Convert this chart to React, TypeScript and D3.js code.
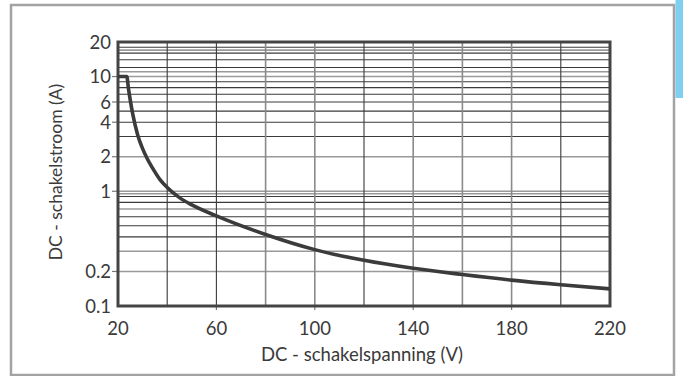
import { useEffect, useRef } from 'react';
import * as d3 from 'd3';

// switching curve: DC voltage (V) vs. DC current (A)
const voltage = [20, 23.6, 24.2, 25, 26, 28, 30, 32, 34, 37, 40, 45, 50, 60, 80, 100, 120, 140, 160, 180, 200, 220];
const current = [10, 10, 8, 6.2, 4.7, 3.1, 2.35, 1.9, 1.6, 1.27, 1.08, 0.88, 0.76, 0.61, 0.42, 0.31, 0.25, 0.213, 0.188, 0.168, 0.153, 0.141];

const yTicks = [20, 10, 6, 4, 2, 1, 0.2, 0.1];
const xTicks = [20, 60, 100, 140, 180, 220];

const yGridDark = [18, 16, 14, 12, 9, 8, 7, 6, 5, 4, 3, 0.9, 0.8, 0.6, 0.5, 0.4];
const yGridLight = [17, 11, 10, 2, 1, 0.95, 0.7, 0.3, 0.2];
const xGridDark = [40, 60, 120, 200];
const xGridLight = [80, 100, 140, 160, 180];

const W = 683;
const H = 376;
const FONT = 'Lato, "DejaVu Sans", sans-serif';

export default function App() {
  const svgRef = useRef<SVGSVGElement>(null);

  useEffect(() => {
    const svg = d3.select(svgRef.current);
    svg.selectAll('*').remove();

    const left = 118, right = 610, top = 42, bottom = 306;
    const x = d3.scaleLinear().domain([20, 220]).range([left, right]);
    const y = d3.scaleLog().domain([0.1, 20]).range([bottom, top]);

    svg.append('rect').attr('width', W).attr('height', H).attr('fill', '#fff');

    // blue tab at top right and outer frame
    svg.append('rect').attr('x', 675.5).attr('y', 0).attr('width', 8).attr('height', 98).attr('fill', '#7ecff0');
    svg.append('rect')
      .attr('x', 11).attr('y', 5).attr('width', 663).attr('height', 370)
      .attr('fill', 'none').attr('stroke', '#a3a3a3').attr('stroke-width', 2.5);

    const grid = svg.append('g');
    grid.selectAll('.hl').data(yGridLight).enter().append('line')
      .attr('x1', left).attr('x2', right)
      .attr('y1', d => y(d)).attr('y2', d => y(d))
      .attr('stroke', '#9a9a9a').attr('stroke-width', 1.6);
    grid.selectAll('.hd').data(yGridDark).enter().append('line')
      .attr('x1', left).attr('x2', right)
      .attr('y1', d => y(d)).attr('y2', d => y(d))
      .attr('stroke', '#3a3a3a').attr('stroke-width', 1.1);
    grid.selectAll('.vl').data(xGridLight).enter().append('line')
      .attr('y1', top).attr('y2', bottom)
      .attr('x1', d => x(d)).attr('x2', d => x(d))
      .attr('stroke', '#8a8a8a').attr('stroke-width', 1.6);
    grid.selectAll('.vd').data(xGridDark).enter().append('line')
      .attr('y1', top).attr('y2', bottom)
      .attr('x1', d => x(d)).attr('x2', d => x(d))
      .attr('stroke', '#3a3a3a').attr('stroke-width', 1.1);

    // tick marks
    svg.append('g').selectAll('line')
      .data(yTicks.filter(d => d !== 20 && d !== 0.1)).enter().append('line')
      .attr('x1', left - 6).attr('x2', left)
      .attr('y1', d => y(d)).attr('y2', d => y(d))
      .attr('stroke', '#777').attr('stroke-width', 1.2);
    svg.append('g').selectAll('line')
      .data(xTicks.filter(d => d !== 20 && d !== 220)).enter().append('line')
      .attr('x1', d => x(d)).attr('x2', d => x(d))
      .attr('y1', bottom).attr('y2', bottom + 4)
      .attr('stroke', '#777').attr('stroke-width', 1.2);

    // plot border
    svg.append('rect')
      .attr('x', left).attr('y', top).attr('width', right - left).attr('height', bottom - top)
      .attr('fill', 'none').attr('stroke', '#444').attr('stroke-width', 3);

    // curve
    const line = d3.line<number>()
      .x((_, i) => x(voltage[i]))
      .y(d => y(d))
      .curve(d3.curveMonotoneX);
    svg.append('path')
      .datum(current)
      .attr('d', line)
      .attr('fill', 'none').attr('stroke', '#3b3b3b').attr('stroke-width', 3.6)
      .attr('stroke-linejoin', 'round');

    // tick labels
    svg.append('g').selectAll('text').data(yTicks).enter().append('text')
      .attr('x', 111).attr('y', d => y(d)).attr('dy', '0.36em')
      .attr('text-anchor', 'end')
      .attr('font-family', FONT).attr('font-size', 18.5).attr('fill', '#3a3a3a')
      .text(d => String(d));
    svg.append('g').selectAll('text').data(xTicks).enter().append('text')
      .attr('x', d => x(d)).attr('y', 334.5)
      .attr('text-anchor', 'middle')
      .attr('font-family', FONT).attr('font-size', 18.5).attr('fill', '#3a3a3a')
      .text(d => String(d));

    // axis titles
    svg.append('text')
      .attr('x', 362).attr('y', 361)
      .attr('text-anchor', 'middle')
      .attr('font-family', FONT).attr('font-size', 18.5).attr('fill', '#3a3a3a')
      .text('DC - schakelspanning (V)');
    svg.append('text')
      .attr('transform', 'translate(62,172) rotate(-90)')
      .attr('text-anchor', 'middle')
      .attr('font-family', FONT).attr('font-size', 17.5).attr('fill', '#3a3a3a')
      .text('DC - schakelstroom (A)');
  }, []);

  return (
    <svg
      ref={svgRef}
      width={W}
      height={H}
      style={{ position: 'absolute', left: 0, top: 0 }}
    />
  );
}
